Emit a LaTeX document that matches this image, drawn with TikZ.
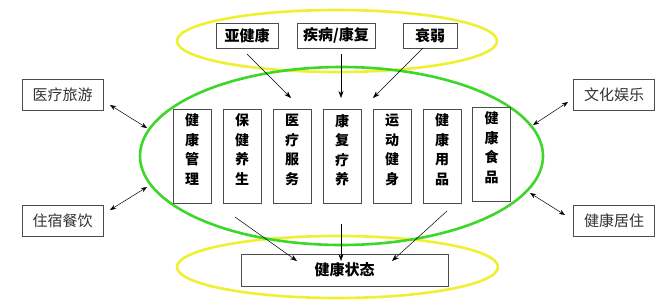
\documentclass[tikz,border=0pt]{standalone}
\usepackage{fontspec}
\newfontfamily\cjk{Noto Sans CJK SC}
\usetikzlibrary{arrows.meta}
\definecolor{ylw}{RGB}{240,240,50}
\definecolor{grn}{RGB}{60,215,40}
\tikzset{
  ring/.style={line width=2.6pt},
  topbox/.style={draw=black!70, line width=0.8pt, fill=white, minimum width=#1, minimum height=25pt, inner sep=0pt, font=\cjk\bfseries\fontsize{15}{17}\selectfont},
  sidebox/.style={draw=black!70, line width=0.8pt, fill=white, minimum width=81pt, minimum height=31pt, inner sep=0pt, font=\cjk\fontsize{15}{17}\selectfont\color{black!80}},
  colbox/.style={draw=black!70, line width=0.8pt, fill=white, minimum width=38pt, minimum height=94pt, inner sep=0pt, align=center, font=\cjk\bfseries\fontsize{14}{19.5}\selectfont},
  arr/.style={-{Stealth[length=7pt,width=5pt]}, line width=0.5pt},
  darr/.style={{Stealth[length=6pt,width=4.5pt]}-{Stealth[length=6pt,width=4.5pt]}, line width=0.5pt}
}
\begin{document}
\begin{tikzpicture}[x=1pt,y=-1pt]
\useasboundingbox (0,0) rectangle (666,306);
\fill[white] (0,0) rectangle (666,306);
% ellipses
\draw[ring, ylw] (337,41) ellipse [x radius=160pt, y radius=31pt];
\draw[ring, ylw] (337.5,267) ellipse [x radius=160.5pt, y radius=31pt];
\draw[ring, grn] (341.5,156) ellipse [x radius=201.5pt, y radius=89pt];
% top boxes
\node[topbox=62pt] (a) at (247,35.5) {亚健康};
\node[topbox=78pt] (b) at (336,35.5) {疾病/康复};
\node[topbox=54pt] (c) at (430,35.5) {衰弱};
% column boxes
\node[colbox] (m1) at (192,156) {健\\康\\管\\理\\[-6pt]};
\node[colbox] (m2) at (242,156) {保\\健\\养\\生\\[-6pt]};
\node[colbox] (m3) at (292,156) {医\\疗\\服\\务\\[-6pt]};
\node[colbox] (m4) at (342,156) {康\\复\\疗\\养\\[-6pt]};
\node[colbox] (m5) at (392,156) {运\\动\\健\\身\\[-6pt]};
\node[colbox] (m6) at (442,156) {健\\康\\用\\品\\[-6pt]};
\node[colbox] (m7) at (491.5,154) {健\\康\\食\\品\\[-6pt]};
% bottom box
\node[draw=black!70, line width=0.8pt, fill=white, minimum width=207pt, minimum height=32pt, inner sep=0pt, font=\cjk\bfseries\fontsize{15}{17}\selectfont] (s) at (344.5,270) {健康状态};
% side boxes
\node[sidebox] (l1) at (62.5,94.5) {医疗旅游};
\node[sidebox] (l2) at (62.5,220.5) {住宿餐饮};
\node[sidebox] (r1) at (614,94.5) {文化娱乐};
\node[sidebox] (r2) at (614,220.5) {健康居住};
% coordinates
\coordinate (a0) at (247,54);
\coordinate (a1) at (291,98);
\coordinate (b0) at (341,54);
\coordinate (b1) at (341,98);
\coordinate (c0) at (423,48);
\coordinate (c1) at (373,98);
\coordinate (d0) at (235,217);
\coordinate (d1) at (297,261);
\coordinate (e0) at (341,224);
\coordinate (e1) at (341,261);
\coordinate (f0) at (447,211);
\coordinate (f1) at (392,261);
\coordinate (g0) at (110,105);
\coordinate (g1) at (147,128);
\coordinate (h0) at (147,187);
\coordinate (h1) at (110,210);
\coordinate (i0) at (568,102);
\coordinate (i1) at (533,125);
\coordinate (j0) at (530,193);
\coordinate (j1) at (565,215);
\draw[arr] (a0) -- (a1);
\draw[arr] (b0) -- (b1);
\draw[arr] (c0) -- (c1);
\draw[arr] (d0) -- (d1);
\draw[arr] (e0) -- (e1);
\draw[arr] (f0) -- (f1);
\draw[darr] (g0) -- (g1);
\draw[darr] (h0) -- (h1);
\draw[darr] (i0) -- (i1);
\draw[darr] (j0) -- (j1);
\end{tikzpicture}
\end{document}
